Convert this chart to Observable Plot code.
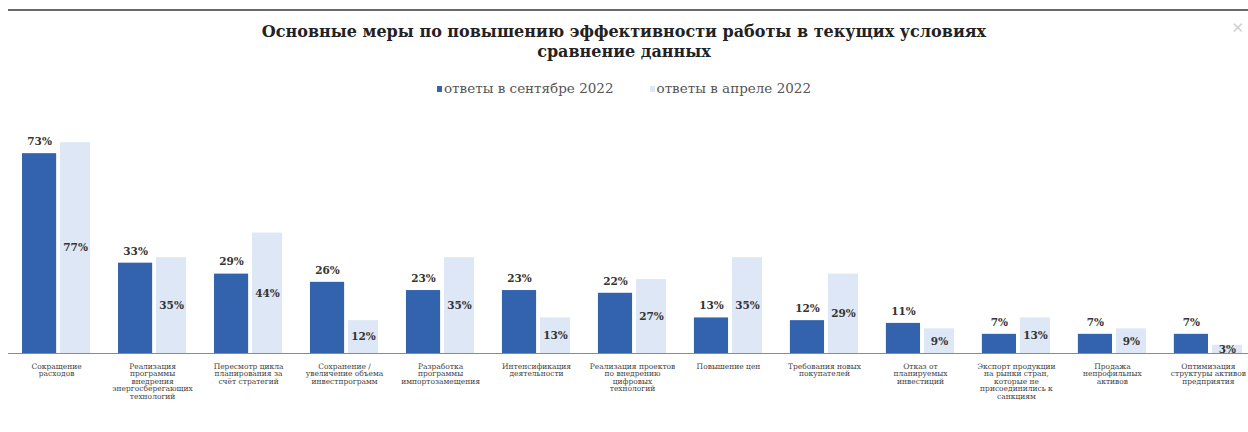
<!DOCTYPE html>
<html><head><meta charset="utf-8">
<script src="https://cdn.jsdelivr.net/npm/d3@7"></script>
<script src="https://cdn.jsdelivr.net/npm/@observablehq/plot@0.6"></script>
<style>
body{margin:0;background:#fff;width:1248px;height:432px;overflow:hidden;font-family:"DejaVu Serif",serif;position:relative;}
#top{position:absolute;left:8px;right:0;top:9px;border-top:2px solid #6a6a6a;}
#close{position:absolute;right:4px;top:19px;font-size:15px;color:#d0d0d0;font-family:"DejaVu Sans",sans-serif;}
#title{position:absolute;top:22px;left:0;width:1248px;text-align:center;font-weight:bold;font-size:16px;line-height:20px;color:#222;}
#legend{position:absolute;top:80px;left:0;width:1248px;text-align:center;font-size:13.5px;color:#555;}
#legend span.sw{display:inline-block;width:5px;height:6px;margin-right:2px;vertical-align:1px;}
#legend span.item{margin:0 18px;}
#chart{position:absolute;top:100px;left:0;}
</style></head>
<body>
<div id="top"></div>
<div id="close">✕</div>
<div id="title"></div>
<div id="legend"></div>
<div id="chart"></div>
<script>
const titleLines = ["Основные меры по повышению эффективности работы в текущих условиях", "сравнение данных"];
const seriesNames = ["ответы в сентябре 2022", "ответы в апреле 2022"];
const seriesColors = ["#3463ad", "#dde7f6"];
const categories = [
  "Сокращение расходов",
  "Реализация программы внедрения энергосберегающих технологий",
  "Пересмотр цикла планирования за счёт стратегий",
  "Сохранение / увеличение объема инвестпрограмм",
  "Разработка программы импортозамещения",
  "Интенсификация деятельности",
  "Реализация проектов по внедрению цифровых технологий",
  "Повышение цен",
  "Требования новых покупателей",
  "Отказ от планируемых инвестиций",
  "Экспорт продукции на рынки стран, которые не присоединились к санкциям",
  "Продажа непрофильных активов",
  "Оптимизация структуры активов предприятия"
];
const tickLabels = [
  "Сокращение\nрасходов",
  "Реализация\nпрограммы\nвнедрения\nэнергосберегающих\nтехнологий",
  "Пересмотр цикла\nпланирования за\nсчёт стратегий",
  "Сохранение /\nувеличение объема\nинвестпрограмм",
  "Разработка\nпрограммы\nимпортозамещения",
  "Интенсификация\nдеятельности",
  "Реализация проектов\nпо внедрению\nцифровых\nтехнологий",
  "Повышение цен",
  "Требования новых\nпокупателей",
  "Отказ от\nпланируемых\nинвестиций",
  "Экспорт продукции\nна рынки стран,\nкоторые не\nприсоединились к\nсанкциям",
  "Продажа\nнепрофильных\nактивов",
  "Оптимизация\nструктуры активов\nпредприятия"
];
const september = [73, 33, 29, 26, 23, 23, 22, 13, 12, 11, 7, 7, 7];
const april = [77, 35, 44, 12, 35, 13, 27, 35, 29, 9, 13, 9, 3];

document.getElementById("title").innerHTML = titleLines.join("<br>");
document.getElementById("legend").innerHTML = seriesNames.map((n, i) =>
  `<span class="item"><span class="sw" style="background:${seriesColors[i]}"></span>${n}</span>`).join("");

const data = categories.map((c, i) => ({cat: c, sep: september[i], apr: april[i]}));
const labelOf = new Map(categories.map((c, i) => [c, tickLabels[i]]));

const chart = Plot.plot({
  width: 1248,
  height: 332,
  marginLeft: 8,
  marginRight: 0,
  marginTop: 34,
  marginBottom: 79,
  style: {fontFamily: "DejaVu Serif, serif", background: "#fff"},
  x: {domain: categories, range: [22, 1242], paddingInner: 0.29, paddingOuter: 0, round: false, axis: null},
  y: {domain: [0, 80], axis: null},
  marks: [
    Plot.barY(data, {x: "cat", y: "apr", fill: seriesColors[1], insetLeft: 38}),
    Plot.barY(data, {x: "cat", y: "sep", fill: seriesColors[0], insetRight: 34}),
    Plot.ruleY([0], {stroke: "#8a8a8a", strokeWidth: 1}),
    Plot.text(data, {x: "cat", y: "sep", text: d => d.sep + "%", dx: -17, dy: -12, fontSize: 10.5, fontWeight: "bold", fill: "#333"}),
    Plot.text(data, {x: "cat", y: d => d.apr / 2, text: d => d.apr + "%", dx: 19, fontSize: 10.5, fontWeight: "bold", fill: "#333"}),
    Plot.axisX({domain: categories, tickSize: 0, tickPadding: 10, fontSize: 7.5, fill: "#444", lineAnchor: "top", tickFormat: c => labelOf.get(c), label: null})
  ]
});
document.getElementById("chart").appendChild(chart);
</script>
</body></html>
